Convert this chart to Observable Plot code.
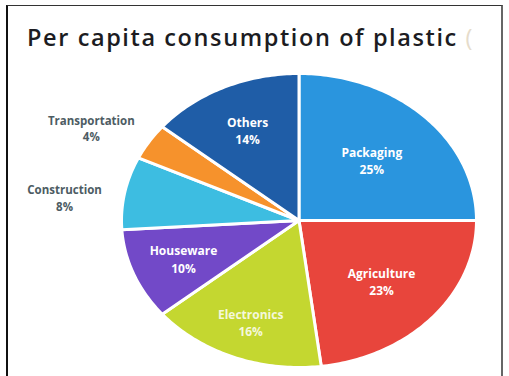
<!DOCTYPE html>
<html>
<head>
<meta charset="utf-8">
<script src="https://cdn.jsdelivr.net/npm/d3@7"></script>
<script src="https://cdn.jsdelivr.net/npm/@observablehq/plot@0.6"></script>
<style>
  html, body { margin: 0; padding: 0; background: #fff; }
  #wrap { position: relative; width: 509px; height: 376px; overflow: hidden; background: #fff; }
  #frame { position: absolute; left: 6px; top: 5px; width: 497px; height: 400px;
           border-left: 2px solid #111; border-top: 1.5px solid #333; border-right: 2px solid #666; box-sizing: border-box; }
  #title { position: absolute; left: 27px; top: 21px; white-space: nowrap;
           font-family: "Open Sans", sans-serif; font-weight: 600; font-size: 23.5px; color: #1c1c22; letter-spacing: 1.6px; }
  #title .cut { color: #e6dccb; font-weight: 400; }
  #chart { position: absolute; left: 0; top: 0; }
</style>
</head>
<body>
<div id="wrap">
  <div id="frame"></div>
  <div id="title">Per capita consumption of plastic <span class="cut">(</span></div>
  <div id="chart"></div>
</div>
<script>
const categories = ["Packaging", "Agriculture", "Electronics", "Houseware", "Construction", "Transportation", "Others"];
const values = [25, 23, 16, 10, 8, 4, 14];
const colors = ["#2a95de", "#e8453c", "#c4d730", "#7249c8", "#3dbde1", "#f6922c", "#1f5da7"];

const total = d3.sum(values);
let acc = 0;
const slices = categories.map((c, i) => {
  const a0 = acc / total * 2 * Math.PI;
  acc += values[i];
  const a1 = acc / total * 2 * Math.PI;
  return {category: c, value: values[i], a0, a1, mid: (a0 + a1) / 2};
});

// wedge outlines in unit-circle data space (angle measured clockwise from 12 o'clock)
const wedgePts = [];
for (const s of slices) {
  wedgePts.push({category: s.category, x: 0, y: 0});
  const n = Math.max(2, Math.ceil((s.a1 - s.a0) / (Math.PI / 180)));
  for (let k = 0; k <= n; k++) {
    const a = s.a0 + (s.a1 - s.a0) * k / n;
    wedgePts.push({category: s.category, x: Math.sin(a), y: Math.cos(a)});
  }
}

const inside = slices.filter(s => s.value >= 10);
const outside = slices.filter(s => s.value < 10);
const insideR = {Packaging: 0.58, Agriculture: 0.62, Electronics: 0.74, Houseware: 0.7, Others: 0.68};
const inLabels = inside.map(s => ({...s, x: insideR[s.category] * Math.sin(s.mid), y: insideR[s.category] * Math.cos(s.mid)}));
const outLabels = outside.map(s => {
  const a = s.mid - 4 * Math.PI / 180;
  return {...s, x: 1.33 * Math.sin(a), y: 1.33 * Math.cos(a)};
});

const chart = Plot.plot({
  width: 509,
  height: 376,
  marginLeft: 121,
  marginRight: 33,
  marginTop: 73,
  marginBottom: 9,
  x: {domain: [-1, 1], axis: null},
  y: {domain: [-1, 1], axis: null},
  color: {domain: categories, range: colors},
  style: {background: "transparent", fontFamily: "Open Sans, sans-serif"},
  marks: [
    Plot.line(wedgePts, {x: "x", y: "y", z: "category", fill: "category", stroke: "white", strokeWidth: 3, curve: "linear-closed", strokeLinejoin: "round"}),
    Plot.text(inLabels, {x: "x", y: "y", text: d => `${d.category}\n${d.value}%`, fill: d => d.category === "Electronics" ? "#f4f8dc" : "white", fontSize: 12, fontWeight: "bold", lineHeight: 1.45}),
    Plot.text(outLabels, {x: "x", y: "y", text: d => `${d.category}\n${d.value}%`, fill: "#4d5c63", fontSize: 11.5, fontWeight: "bold", lineHeight: 1.45})
  ]
});
document.getElementById("chart").appendChild(chart);
</script>
</body>
</html>
